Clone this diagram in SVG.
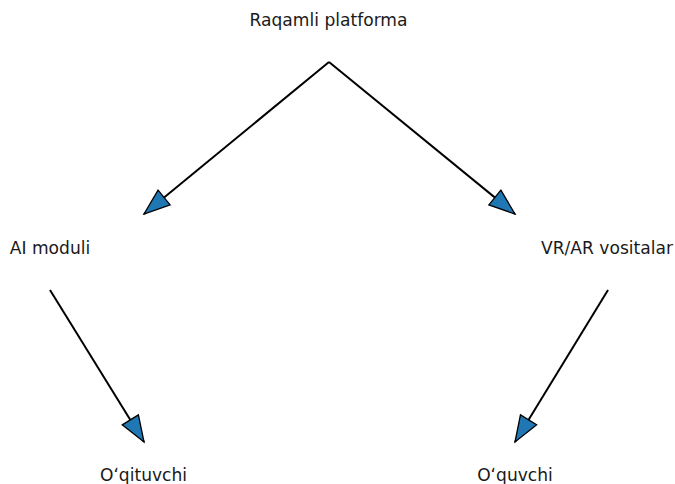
<svg xmlns="http://www.w3.org/2000/svg" width="675" height="484" viewBox="0 0 675 484">
<style>
  .lbl { font-family: "DejaVu Sans", sans-serif; font-size: 17.1px; fill: #1a1a1a; text-anchor: middle; }
  .edge { stroke: #000; stroke-width: 2; fill: none; marker-end: url(#ah); }
</style>
<defs>
  <marker id="ah" markerUnits="userSpaceOnUse" viewBox="-2 -12 30 24" markerWidth="30" markerHeight="24" refX="26" refY="0" orient="auto">
    <path d="M0,-9.5 L26,0 L0,9.5 Z" fill="#1f77b4" stroke="#000" stroke-width="1.3" stroke-linejoin="miter"/>
  </marker>
</defs>
<rect width="675" height="484" fill="#fff"/>
<g id="connectors">
  <line class="edge" x1="329" y1="62" x2="144" y2="214"/>
  <line class="edge" x1="329" y1="62" x2="515" y2="214"/>
  <line class="edge" x1="50" y1="290" x2="144" y2="442"/>
  <line class="edge" x1="608" y1="290" x2="515" y2="442"/>
</g>
<g id="node-platforma"><text class="lbl" x="328.5" y="26">Raqamli platforma</text></g>
<g id="node-ai"><text class="lbl" x="50" y="254">AI moduli</text></g>
<g id="node-vrar"><text class="lbl" x="607" y="254">VR/AR vositalar</text></g>
<g id="node-oqituvchi"><text class="lbl" x="143.5" y="481">Oʻqituvchi</text></g>
<g id="node-oquvchi"><text class="lbl" x="515" y="481">Oʻquvchi</text></g>
</svg>
